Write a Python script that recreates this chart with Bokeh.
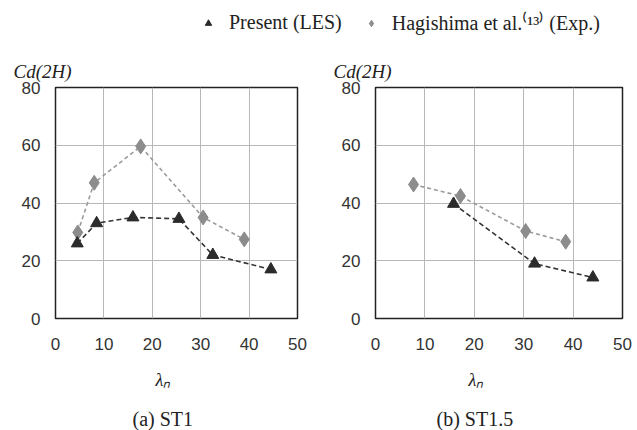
from bokeh.plotting import figure
from bokeh.layouts import column, row
from bokeh.models import Legend, LegendItem, FixedTicker, Range1d, Title
from bokeh.embed import file_html
from bokeh.resources import INLINE

# ---- data ----
x_ticks = [0, 10, 20, 30, 40, 50]
y_ticks = [0, 20, 40, 60, 80]

st1_les_x = [4.5, 8.5, 16.0, 25.5, 32.5, 44.5]
st1_les_y = [26.0, 33.0, 35.0, 34.5, 22.0, 17.0]
st1_exp_x = [4.6, 8.0, 17.6, 30.5, 39.0]
st1_exp_y = [29.8, 47.0, 59.6, 35.0, 27.4]

st15_les_x = [15.8, 32.2, 44.0]
st15_les_y = [39.7, 19.0, 14.2]
st15_exp_x = [7.7, 17.2, 30.4, 38.5]
st15_exp_y = [46.4, 42.4, 30.3, 26.6]

series_labels = ["Present (LES)", "Hagishima et al.\u207d\u00b9\u00b3\u207e (Exp.)"]
captions = ["(a) ST1", "(b) ST1.5"]
y_title = "Cd(2H)"
x_title = "\u03bb\u2099"

LES_COLOR = "#2b2b2b"
EXP_COLOR = "#8c8c8c"
TXT = "#222222"
SERIF = "Liberation Serif"
SANS = "Liberation Sans"


def panel(width, left, right, les_x, les_y, exp_x, exp_y, caption, lam_off, cap_off):
    p = figure(width=width, height=385, output_backend="svg", toolbar_location=None,
               x_range=Range1d(0, 50), y_range=Range1d(0, 80),
               min_border_left=left, min_border_right=right,
               min_border_top=42, min_border_bottom=112,
               background_fill_color="white", border_fill_color="white")
    p.outline_line_color = "#222222"
    p.outline_line_width = 1.5
    for ax in (p.xaxis, p.yaxis):
        ax.axis_line_color = None
        ax.major_tick_line_color = None
        ax.minor_tick_line_color = None
        ax.major_label_text_font = SANS
        ax.major_label_text_font_size = "17px"
        ax.major_label_text_color = "#333333"
    p.xaxis.ticker = FixedTicker(ticks=x_ticks)
    p.yaxis.ticker = FixedTicker(ticks=y_ticks)
    p.xaxis.major_label_standoff = 13
    p.yaxis.major_label_standoff = 9
    p.grid.grid_line_color = "#b8b8b8"
    p.grid.grid_line_width = 1

    p.line(exp_x, exp_y, line_color="#9a9a9a", line_dash="4 3", line_width=1.6)
    p.line(les_x, les_y, line_color="#333333", line_dash="5 3", line_width=1.6)
    p.scatter(exp_x, exp_y, marker="diamond", size=15, color=EXP_COLOR)
    p.scatter(les_x, les_y, marker="triangle", size=12, color=LES_COLOR)

    p.add_layout(Title(text=y_title, align="left", offset=-42, standoff=12,
                       text_font=SERIF, text_font_style="italic", text_font_size="19px",
                       text_color=TXT), "above")
    p.add_layout(Title(text=x_title, align="left", offset=lam_off, standoff=31,
                       text_font=SERIF, text_font_style="italic", text_font_size="18px",
                       text_color=TXT), "below")
    p.add_layout(Title(text=caption, align="left", offset=cap_off, standoff=1,
                       text_font=SERIF, text_font_style="normal", text_font_size="20px",
                       text_color=TXT), "below")
    return p


p1 = panel(318, 55, 21, st1_les_x, st1_les_y, st1_exp_x, st1_exp_y, captions[0], 100, 77)
p2 = panel(319, 57, 15, st15_les_x, st15_les_y, st15_exp_x, st15_exp_y, captions[1], 93, 61)

# ---- top strip: legend ----
top = figure(width=637, height=45, output_backend="svg", toolbar_location=None,
             x_range=Range1d(-100, -99), y_range=Range1d(-100, -99), min_border=0,
             x_axis_location=None, y_axis_location=None)
top.outline_line_color = None
top.grid.visible = False
r1 = top.scatter(st1_les_x[:1], st1_les_y[:1], marker="triangle", size=14, color=LES_COLOR)
r2 = top.scatter(st1_exp_x[:1], st1_exp_y[:1], marker="diamond", size=18, color=EXP_COLOR)
legend = Legend(items=[LegendItem(label=series_labels[0], renderers=[r1]),
                       LegendItem(label=series_labels[1], renderers=[r2])],
                orientation="horizontal", location=(200, 9),
                glyph_width=16, glyph_height=18, label_standoff=13, spacing=21,
                padding=0, margin=0, label_text_font=SERIF, label_text_font_size="20px",
                label_text_color=TXT, border_line_color=None,
                background_fill_alpha=0)
top.add_layout(legend)

layout = column(top, row(p1, p2, spacing=0), spacing=0)
open("out.html", "w").write(file_html(layout, INLINE))
